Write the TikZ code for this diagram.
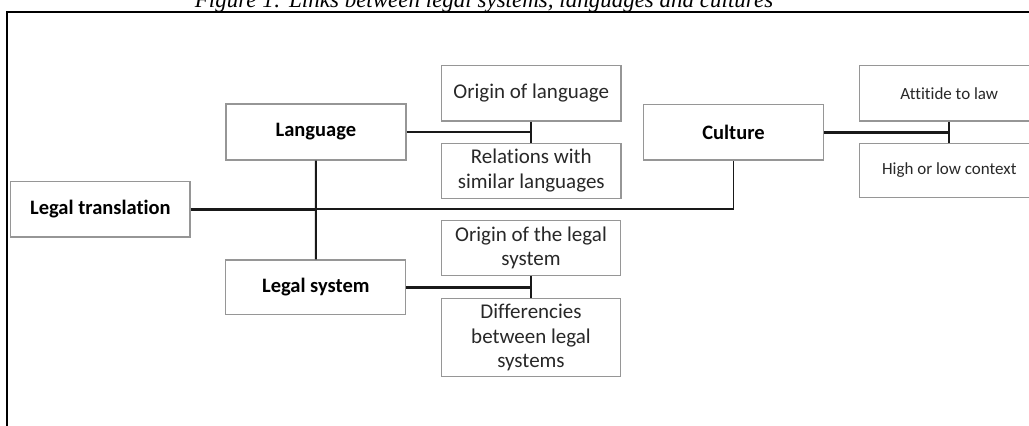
\documentclass[tikz,border=0pt]{standalone}
\usepackage{fontspec}
\setmainfont{Carlito}[Ligatures=NoCommon]
\newfontfamily\capfont{Liberation Serif}
\definecolor{boxgray}{RGB}{150,150,150}
\definecolor{textdark}{RGB}{40,40,40}
\begin{document}
\begin{tikzpicture}[x=1pt,y=-1pt,
  box/.style={draw=boxgray, line width=1.3pt, fill=white, inner sep=0pt,
    minimum width=180pt, minimum height=55pt, align=center, text=textdark,
    font=\fontsize{21}{24.7}\selectfont},
  mainbox/.style={box, text=black, font=\bfseries\fontsize{20.5}{24}\selectfont},
  smallbox/.style={box, font=\fontsize{17}{20}\selectfont},
  conn/.style={draw=black!90, line width=2.4pt},
  tick/.style={draw=black!90, line width=1.9pt},
  frame/.style={draw=black, line width=2.2pt}]
\useasboundingbox (0,0) rectangle (1029,426);
\clip (0,0) rectangle (1029,426);

% caption (cut at the top)
\node[anchor=base, inner sep=0pt] (cap) at (484,7.5)
  {\capfont\itshape\fontsize{23}{23}\selectfont Figure 1: Links between legal systems, languages and cultures};

% frame
\coordinate (fb) at (7,430);
\coordinate (fc) at (7,12.3);
\coordinate (fr) at (1035,12.3);
\draw[frame] (fb) -- (fc) -- (fr);

% nodes
\node[mainbox, minimum width=179.3pt, minimum height=55.3pt] (lt) at (100.4,209.3) {Legal translation};
\node[mainbox, minimum height=56pt] (lang) at (315.9,132) {Language};
\node[mainbox, minimum height=54.7pt] (ls) at (315.8,287.3) {Legal system};
\node[mainbox, minimum height=55.7pt] (cult) at (733.5,132.2) {Culture};

\node[box, minimum width=179.3pt, minimum height=55.3pt] (ol) at (531.3,93.3) {Origin of language};
\node[box, minimum width=179.3pt, minimum height=55pt] (rel) at (531.3,170.8) {Relations with\\similar languages};
\node[box, minimum width=179.4pt, minimum height=54.6pt] (ols) at (531,248) {Origin of the legal\\system};
\node[box, minimum width=179.4pt, minimum height=78.4pt] (dif) at (531,337.5) {Differencies\\between legal\\systems};

\node[smallbox, minimum height=55.3pt] (att) at (949.3,93.3) {Attitide to law};
\node[smallbox, minimum height=54.4pt] (hol) at (949.3,170.5) {High or low context};

% connectors
\coordinate (j) at (lang.south |- lt.east);
\draw[conn] (lt.east) -- (j);
\draw[conn, line width=1.9pt] (j) -- (j -| cult.south) -- (cult.south);
\draw[conn, line width=2.1pt] (lang.south) -- (ls.north);

\draw[conn] (lang.east) -- (lang.east -| ol.south);
\draw[tick] (ol.south) -- (rel.north);

\draw[conn] (ls.east) -- (ls.east -| ols.south);
\draw[tick] (ols.south) -- (dif.north);

\draw[conn, line width=2.8pt] (cult.east) -- (cult.east -| att.south);
\draw[tick] (att.south) -- (hol.north);
\end{tikzpicture}
\end{document}
